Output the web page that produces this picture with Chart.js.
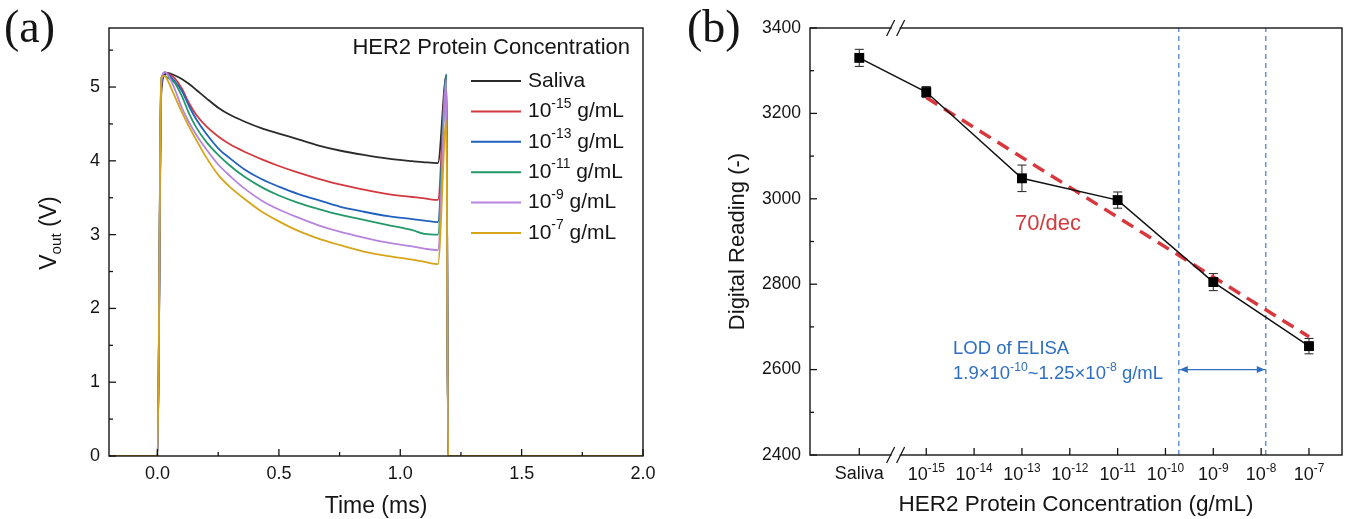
<!DOCTYPE html>
<html>
<head>
<meta charset="utf-8">
<script src="https://cdn.jsdelivr.net/npm/chart.js@4.4.1/dist/chart.umd.min.js"></script>
<style>
  html, body { margin: 0; padding: 0; background: #fff; }
  #wrap { position: relative; width: 1349px; height: 519px; overflow: hidden; }
  #boxA { position: absolute; left: 0; top: 0; width: 680px; height: 519px; }
  #boxB { position: absolute; left: 680px; top: 0; width: 669px; height: 519px; }
</style>
</head>
<body>
<div id="wrap">
  <div id="boxA"><canvas id="chartA" width="680" height="519"></canvas></div>
  <div id="boxB"><canvas id="chartB" width="669" height="519"></canvas></div>
</div>
<script>
// ---------- Panel (a): output-voltage transients ----------
const timeMs = [-0.2, 0.0, 0.015, 0.03, 0.04, 0.07, 0.10, 0.13, 0.16, 0.20, 0.25, 0.30, 0.36, 0.43,
                0.50, 0.58, 0.66, 0.75, 0.85, 0.95, 1.05, 1.10, 1.155, 1.19, 1.197, 2.0];
const vSaliva = [0, 0, 4.90, 5.17, 5.19, 5.16, 5.11, 5.04, 4.96, 4.85, 4.72, 4.62, 4.53, 4.44,
                 4.37, 4.29, 4.21, 4.14, 4.08, 4.03, 3.995, 3.98, 3.97, 5.16, 0, 0];
const vE15 = [0, 0, 5.00, 5.20, 5.19, 5.12, 4.98, 4.78, 4.62, 4.47, 4.33, 4.22, 4.12, 4.02,
              3.93, 3.84, 3.76, 3.68, 3.61, 3.55, 3.51, 3.49, 3.47, 5.15, 0, 0];
const vE13 = [0, 0, 5.00, 5.20, 5.18, 5.08, 4.95, 4.74, 4.56, 4.37, 4.17, 4.03, 3.88, 3.75,
              3.65, 3.55, 3.47, 3.38, 3.31, 3.25, 3.21, 3.19, 3.17, 5.17, 0, 0];
const vE11 = [0, 0, 5.12, 5.15, 5.13, 5.06, 4.88, 4.64, 4.45, 4.26, 4.08, 3.93, 3.78, 3.64,
              3.53, 3.43, 3.35, 3.27, 3.20, 3.13, 3.06, 3.01, 3.00, 5.15, 0, 0];
const vE9 = [0, 0, 5.05, 5.20, 5.18, 4.98, 4.72, 4.52, 4.35, 4.16, 3.95, 3.79, 3.62, 3.46,
             3.34, 3.23, 3.13, 3.04, 2.96, 2.89, 2.84, 2.81, 2.79, 5.10, 0, 0];
const vE7 = [0, 0, 5.12, 5.15, 5.10, 4.88, 4.66, 4.46, 4.28, 4.05, 3.81, 3.64, 3.48, 3.31,
             3.18, 3.05, 2.95, 2.86, 2.77, 2.71, 2.66, 2.63, 2.60, 4.55, 0, 0];
const seriesNames = ['Saliva', '10^{-15} g/mL', '10^{-13} g/mL', '10^{-11} g/mL', '10^{-9} g/mL', '10^{-7} g/mL'];
const seriesColors = ['#2b2b2b', '#d23a3f', '#2060bf', '#23996a', '#b684dd', '#d6a51a'];
const seriesValues = [vSaliva, vE15, vE13, vE11, vE9, vE7];
const timeTicks = [0, 0.5, 1.0, 1.5, 2.0];
const timeMinor = [0.25, 0.75, 1.25, 1.75];
const voltTicks = [0, 1, 2, 3, 4, 5];
const voltMinor = [0.5, 1.5, 2.5, 3.5, 4.5, 5.5];

// ---------- Panel (b): digital reading vs. concentration ----------
const concLabels = ['Saliva', '10^{-15}', '10^{-13}', '10^{-11}', '10^{-9}', '10^{-7}'];
const concLog = [-16.4, -15, -13, -11, -9, -7];          // Saliva sits left of the axis break
const readings = [3330, 3250, 3048, 2997, 2805, 2655];
const readingErr = [20, 13, 31, 19, 20, 18];
const decadeTicks = [-15, -14, -13, -12, -11, -10, -9, -8, -7];
const readingTicks = [2400, 2600, 2800, 3000, 3200, 3400];
const readingMinor = [2500, 2700, 2900, 3100, 3300];
const fitSlope = -70;                                     // counts per decade
const fitStart = { x: -15, y: 3237 };
const fitEndX = -7;
const lodLow = Math.log10(1.9e-10);
const lodHigh = Math.log10(1.25e-8);
const lodArrowY = 2600;
const axisBreakX = -15.64;

const SANS = 'Arial, "Liberation Sans", Helvetica, sans-serif';
const INK = '#151515';

function richParts(s) {
  const parts = [];
  const re = /(\^|_)\{([^}]*)\}/g;
  let last = 0, m;
  while ((m = re.exec(s))) {
    if (m.index > last) parts.push({ t: s.slice(last, m.index), k: 0 });
    parts.push({ t: m[2], k: m[1] === '^' ? 1 : -1 });
    last = re.lastIndex;
  }
  if (last < s.length) parts.push({ t: s.slice(last), k: 0 });
  return parts;
}

function drawRich(ctx, s, x, y, size, align, color) {
  const parts = richParts(s);
  const small = size * 0.66;
  let w = 0;
  parts.forEach(p => {
    ctx.font = (p.k ? small : size) + 'px ' + SANS;
    p.w = ctx.measureText(p.t).width;
    w += p.w;
  });
  let cx = align === 'center' ? x - w / 2 : align === 'right' ? x - w : x;
  ctx.fillStyle = color;
  ctx.textBaseline = 'middle';
  ctx.textAlign = 'left';
  parts.forEach(p => {
    ctx.font = (p.k ? small : size) + 'px ' + SANS;
    const dy = p.k === 1 ? -size * 0.36 : p.k === -1 ? size * 0.28 : 0;
    ctx.fillText(p.t, cx, y + dy);
    cx += p.w;
  });
  return w;
}

function drawRotated(ctx, s, x, y, size, color) {
  ctx.save();
  ctx.translate(x, y);
  ctx.rotate(-Math.PI / 2);
  drawRich(ctx, s, 0, 0, size, 'center', color);
  ctx.restore();
}

function panelLetter(ctx, s, x, y) {
  ctx.save();
  ctx.font = '46px "Liberation Serif", "Times New Roman", serif';
  ctx.fillStyle = INK;
  ctx.textBaseline = 'middle';
  ctx.textAlign = 'left';
  ctx.fillText(s, x, y);
  ctx.restore();
}

function tickLine(ctx, x1, y1, x2, y2) {
  ctx.beginPath();
  ctx.moveTo(x1, y1);
  ctx.lineTo(x2, y2);
  ctx.stroke();
}

// ---------- Chart (a) ----------
const decorA = {
  id: 'decorA',
  afterDraw(chart) {
    const { ctx, chartArea: a, scales: { x, y } } = chart;
    ctx.save();
    ctx.strokeStyle = INK;
    ctx.lineWidth = 1.4;
    ctx.strokeRect(a.left, a.top, a.right - a.left, a.bottom - a.top);
    ctx.lineWidth = 1.3;
    timeTicks.forEach(v => { const p = x.getPixelForValue(v); tickLine(ctx, p, a.bottom, p, a.bottom - 7); });
    timeMinor.forEach(v => { const p = x.getPixelForValue(v); tickLine(ctx, p, a.bottom, p, a.bottom - 4); });
    voltTicks.forEach(v => { const p = y.getPixelForValue(v); tickLine(ctx, a.left, p, a.left + 7, p); });
    voltMinor.forEach(v => { const p = y.getPixelForValue(v); tickLine(ctx, a.left, p, a.left + 4, p); });
    timeTicks.forEach(v => drawRich(ctx, v.toFixed(1), x.getPixelForValue(v), a.bottom + 18, 18, 'center', INK));
    voltTicks.forEach(v => drawRich(ctx, String(v), a.left - 9, y.getPixelForValue(v), 18, 'right', INK));
    drawRich(ctx, 'Time (ms)', (a.left + a.right) / 2, 507, 23, 'center', INK);
    drawRotated(ctx, 'V_{out} (V)', 50, 233, 23, INK);

    // legend
    drawRich(ctx, 'HER2 Protein Concentration', 630, 48, 22, 'right', INK);
    seriesNames.forEach((name, i) => {
      const ly = 81 + i * 30.4;
      ctx.strokeStyle = seriesColors[i];
      ctx.lineWidth = 2;
      tickLine(ctx, 471, ly, 521, ly);
      drawRich(ctx, name, 528, ly, 21, 'left', INK);
    });
    panelLetter(ctx, '(a)', 4, 30);
    ctx.restore();
  }
};

new Chart(document.getElementById('chartA'), {
  type: 'scatter',
  data: {
    datasets: seriesNames.map((name, i) => ({
      label: name,
      data: timeMs.map((t, j) => ({ x: t, y: seriesValues[i][j] })),
      showLine: true,
      borderColor: seriesColors[i],
      borderWidth: 1.8,
      pointRadius: 0,
      cubicInterpolationMode: 'monotone',
      order: seriesNames.length - i
    }))
  },
  options: {
    responsive: false,
    animation: false,
    devicePixelRatio: 1,
    layout: { padding: { left: 0, right: 37, top: 28, bottom: 0 } },
    plugins: { legend: { display: false }, tooltip: { enabled: false } },
    scales: {
      x: {
        type: 'linear', min: -0.2, max: 2.0,
        ticks: { display: false }, grid: { display: false }, border: { display: false },
        afterFit(s) { s.height = 63; }
      },
      y: {
        type: 'linear', min: 0, max: 5.8,
        ticks: { display: false }, grid: { display: false }, border: { display: false },
        afterFit(s) { s.width = 109; }
      }
    }
  },
  plugins: [decorA]
});

// ---------- Chart (b) ----------
const decorB = {
  id: 'decorB',
  beforeDatasetsDraw(chart) {
    const { ctx, scales: { x, y } } = chart;
    ctx.save();
    ctx.strokeStyle = '#333';
    ctx.lineWidth = 1.1;
    concLog.forEach((c, i) => {
      const px = x.getPixelForValue(c);
      const t = y.getPixelForValue(readings[i] + readingErr[i]);
      const b = y.getPixelForValue(readings[i] - readingErr[i]);
      tickLine(ctx, px, t, px, b);
      tickLine(ctx, px - 4.5, t, px + 4.5, t);
      tickLine(ctx, px - 4.5, b, px + 4.5, b);
    });
    ctx.restore();
  },
  afterDraw(chart) {
    const { ctx, chartArea: a, scales: { x, y } } = chart;
    ctx.save();
    ctx.strokeStyle = INK;
    ctx.lineWidth = 1.4;
    ctx.strokeRect(a.left, a.top, a.right - a.left, a.bottom - a.top);

    // axis break marks on top and bottom edges
    const bx = x.getPixelForValue(axisBreakX);
    [a.top, a.bottom].forEach(ey => {
      ctx.fillStyle = '#fff';
      ctx.fillRect(bx - 4, ey - 2, 8, 4);
      ctx.lineWidth = 1.3;
      ctx.strokeStyle = INK;
      tickLine(ctx, bx - 9, ey + 8, bx - 1, ey - 8);
      tickLine(ctx, bx + 1, ey + 8, bx + 9, ey - 8);
    });

    ctx.lineWidth = 1.3;
    ctx.strokeStyle = INK;
    [concLog[0]].concat(decadeTicks).forEach(v => {
      const p = x.getPixelForValue(v);
      tickLine(ctx, p, a.bottom, p, a.bottom - 7);
    });
    readingTicks.forEach(v => { const p = y.getPixelForValue(v); tickLine(ctx, a.left, p, a.left + 7, p); });
    readingMinor.forEach(v => { const p = y.getPixelForValue(v); tickLine(ctx, a.left, p, a.left + 4, p); });

    drawRich(ctx, concLabels[0], x.getPixelForValue(concLog[0]), a.bottom + 19, 18, 'center', INK);
    decadeTicks.forEach(v => drawRich(ctx, '10^{' + v + '}', x.getPixelForValue(v), a.bottom + 20, 18, 'center', INK));
    readingTicks.forEach(v => drawRich(ctx, String(v), a.left - 9, y.getPixelForValue(v), 17.5, 'right', INK));

    drawRich(ctx, 'HER2 Protein Concentration (g/mL)', (a.left + a.right) / 2, 505, 22.5, 'center', INK);
    drawRotated(ctx, 'Digital Reading (-)', 58, (a.top + a.bottom) / 2, 22, INK);

    // slope annotation
    drawRich(ctx, '70/dec', 368, 224, 22, 'center', '#d23a3f');

    // ELISA detection window: arrow heads and caption
    const ay = y.getPixelForValue(lodArrowY);
    const xl = x.getPixelForValue(lodLow), xr = x.getPixelForValue(lodHigh);
    ctx.fillStyle = '#2f6fc0';
    ctx.beginPath();
    ctx.moveTo(xl + 1, ay); ctx.lineTo(xl + 9, ay - 3.5); ctx.lineTo(xl + 9, ay + 3.5); ctx.closePath();
    ctx.moveTo(xr - 1, ay); ctx.lineTo(xr - 9, ay - 3.5); ctx.lineTo(xr - 9, ay + 3.5); ctx.closePath();
    ctx.fill();
    drawRich(ctx, 'LOD of ELISA', 273, 349, 18.5, 'left', '#2f6fc0');
    drawRich(ctx, '1.9×10^{-10}~1.25×10^{-8} g/mL', 273, 374, 18.5, 'left', '#2f6fc0');

    panelLetter(ctx, '(b)', 7, 30);
    ctx.restore();
  }
};

new Chart(document.getElementById('chartB'), {
  type: 'scatter',
  data: {
    datasets: [
      {
        label: 'Digital reading',
        data: concLog.map((c, i) => ({ x: c, y: readings[i] })),
        showLine: true,
        borderColor: '#111',
        borderWidth: 1.5,
        pointStyle: 'rect',
        pointRadius: 7,
        pointBackgroundColor: '#000',
        pointBorderColor: '#000',
        pointBorderWidth: 0,
        tension: 0
      },
      {
        label: 'Linear fit',
        data: [fitStart, { x: fitEndX, y: fitStart.y + fitSlope * (fitEndX - fitStart.x) }],
        showLine: true,
        borderColor: '#d8373d',
        borderWidth: 3.5,
        borderDash: [13, 8],
        pointRadius: 0
      },
      {
        label: 'ELISA LOD low',
        data: [{ x: lodLow, y: 2400 }, { x: lodLow, y: 3400 }],
        showLine: true,
        borderColor: '#4f86c8',
        borderWidth: 1.3,
        borderDash: [5, 4],
        pointRadius: 0
      },
      {
        label: 'ELISA LOD high',
        data: [{ x: lodHigh, y: 2400 }, { x: lodHigh, y: 3400 }],
        showLine: true,
        borderColor: '#4f86c8',
        borderWidth: 1.3,
        borderDash: [5, 4],
        pointRadius: 0
      },
      {
        label: 'ELISA window',
        data: [{ x: lodLow, y: lodArrowY }, { x: lodHigh, y: lodArrowY }],
        showLine: true,
        borderColor: '#2f6fc0',
        borderWidth: 1.3,
        pointRadius: 0
      }
    ]
  },
  options: {
    responsive: false,
    animation: false,
    devicePixelRatio: 1,
    layout: { padding: { left: 0, right: 4, top: 28, bottom: 0 } },
    plugins: { legend: { display: false }, tooltip: { enabled: false } },
    scales: {
      x: {
        type: 'linear', min: -17.43, max: -6.31,
        ticks: { display: false }, grid: { display: false }, border: { display: false },
        afterFit(s) { s.height = 64; }
      },
      y: {
        type: 'linear', min: 2400, max: 3400,
        ticks: { display: false }, grid: { display: false }, border: { display: false },
        afterFit(s) { s.width = 130; }
      }
    }
  },
  plugins: [decorB]
});
</script>
</body>
</html>
